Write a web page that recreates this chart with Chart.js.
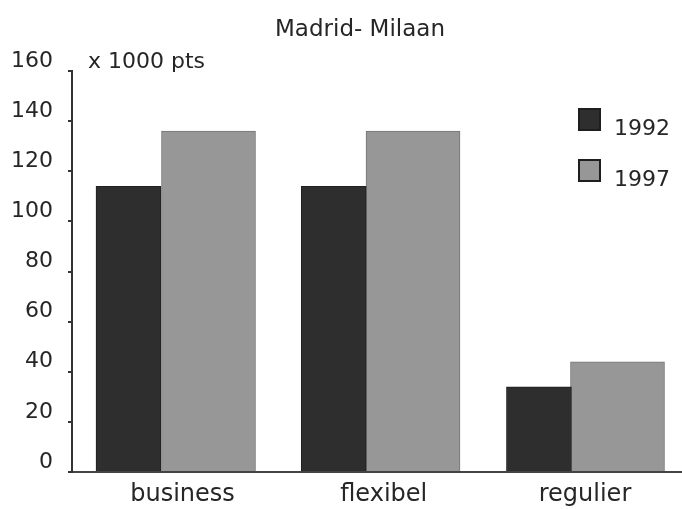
<!DOCTYPE html>
<html>
<head>
<meta charset="utf-8">
<script src="https://cdn.jsdelivr.net/npm/chart.js@4/dist/chart.umd.min.js"></script>
<style>
  html, body { margin: 0; padding: 0; background: #ffffff; }
  #wrap { position: relative; width: 682px; height: 509px; }
</style>
</head>
<body>
<div id="wrap"><canvas id="chart"></canvas></div>
<script>
// Chart text and values
const chartTitle = 'Madrid- Milaan';
const unitLabel = 'x 1000 pts';
const categories = ['business', 'flexibel', 'regulier'];
const seriesNames = ['1992', '1997'];
const values1992 = [114, 114, 34];
const values1997 = [136, 136, 44];
const yTicks = [0, 20, 40, 60, 80, 100, 120, 140, 160];

const FONT = "'DejaVu Sans', sans-serif";
const TEXT = '#262626';

const toPoints = values => values.map((v, i) => ({ x: i, y: v }));

// Title, unit caption and the boxed legend on the right
const overlay = {
  id: 'overlay',
  afterDraw(chart) {
    const { ctx, chartArea: a } = chart;
    ctx.save();
    ctx.fillStyle = TEXT;
    ctx.textBaseline = 'alphabetic';

    ctx.font = `23px ${FONT}`;
    ctx.textAlign = 'center';
    ctx.fillText(chartTitle, (a.left + a.right) / 2 - 17, a.top - 35);

    ctx.font = `22px ${FONT}`;
    ctx.textAlign = 'left';
    ctx.fillText(unitLabel, a.left + 16, a.top - 3);

    chart.data.datasets.forEach((ds, i) => {
      const bx = a.right - 103;
      const by = a.top + 38 + i * 51;
      ctx.fillStyle = ds.backgroundColor;
      ctx.fillRect(bx, by, 21, 21);
      ctx.lineWidth = 2;
      ctx.strokeStyle = '#1e1e1e';
      ctx.strokeRect(bx, by, 21, 21);
      ctx.fillStyle = TEXT;
      ctx.font = `22px ${FONT}`;
      ctx.fillText(ds.label, bx + 35, by + 26);
    });
    ctx.restore();
  }
};

new Chart(document.getElementById('chart'), {
  type: 'bar',
  data: {
    datasets: [
      {
        label: seriesNames[0],
        data: toPoints(values1992),
        xAxisID: 'x92',
        grouped: false,
        backgroundColor: '#2e2e2e',
        borderColor: '#1f1f1f',
        borderWidth: 1,
        barThickness: 65
      },
      {
        label: seriesNames[1],
        data: toPoints(values1997),
        xAxisID: 'x97',
        grouped: false,
        backgroundColor: '#979797',
        borderColor: '#747474',
        borderWidth: 1,
        barThickness: 94
      }
    ]
  },
  options: {
    responsive: true,
    maintainAspectRatio: false,
    animation: false,
    devicePixelRatio: 1,
    layout: { padding: { top: 71, left: 0, right: 0, bottom: 0 } },
    plugins: {
      legend: { display: false },
      title: { display: false },
      tooltip: { enabled: false }
    },
    scales: {
      x: {
        type: 'linear',
        position: 'bottom',
        offset: false,
        min: -0.549,
        max: 2.482,
        z: 1,
        grid: { display: false, drawTicks: false, offset: false },
        border: { display: true, color: '#444444', width: 2 },
        afterBuildTicks: s => { s.ticks = categories.map((c, i) => ({ value: i })); },
        afterFit: s => { s.height = 37; },
        ticks: {
          padding: 8,
          color: TEXT,
          font: { family: FONT, size: 24 },
          maxRotation: 0,
          autoSkip: false,
          callback: v => categories[v]
        }
      },
      x92: {
        type: 'linear',
        display: false,
        offset: false,
        min: -0.2753,
        max: 2.697,
        grid: { offset: false }
      },
      x97: {
        type: 'linear',
        display: false,
        offset: false,
        min: -0.6675,
        max: 2.3154,
        grid: { offset: false }
      },
      y: {
        type: 'linear',
        position: 'left',
        min: 0,
        max: 160,
        z: 1,
        afterBuildTicks: s => { s.ticks = yTicks.map(v => ({ value: v })); },
        afterFit: s => { s.width = 72; },
        grid: {
          display: true,
          drawOnChartArea: false,
          drawTicks: true,
          tickLength: 4,
          color: '#333333',
          lineWidth: 2
        },
        border: { display: true, color: '#333333', width: 2 },
        ticks: {
          padding: 15,
          labelOffset: -10,
          color: TEXT,
          font: { family: FONT, size: 22 }
        }
      }
    }
  },
  plugins: [overlay]
});
</script>
</body>
</html>
